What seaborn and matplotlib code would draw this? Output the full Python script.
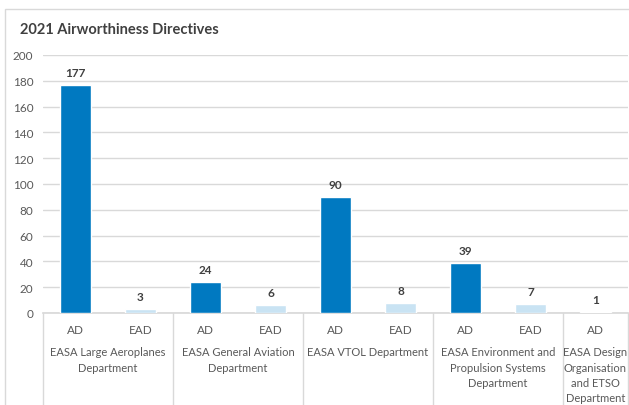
import pandas as pd
import matplotlib.pyplot as plt
import matplotlib.transforms as mtransforms
from matplotlib.patches import Rectangle
import seaborn as sns

# Chart values
departments = [
    "EASA Large Aeroplanes\nDepartment",
    "EASA General Aviation\nDepartment",
    "EASA VTOL Department",
    "EASA Environment and\nPropulsion Systems\nDepartment",
    "EASA Design\nOrganisation\nand ETSO\nDepartment",
]
ad_counts = [177, 24, 90, 39, 1]
ead_counts = [3, 6, 8, 7, None]
y_ticks = list(range(0, 201, 20))

# Build one row per bar slot
rows = []
group_sizes = []
for dep, ad, ead in zip(departments, ad_counts, ead_counts):
    rows.append({"slot": f"{dep}|AD", "kind": "AD", "value": ad})
    n = 1
    if ead is not None:
        rows.append({"slot": f"{dep}|EAD", "kind": "EAD", "value": ead})
        n = 2
    group_sizes.append(n)
df = pd.DataFrame(rows)

sns.set_theme(style="white")
plt.rcParams['font.family'] = ['Lato', 'DejaVu Sans']

fig = plt.figure(figsize=(6.29, 4.06), dpi=100)
ax = fig.add_axes([43 / 629, 1 - 314 / 406, 585 / 629, 258 / 406])

# outer chart frame
fig.patches.append(Rectangle((5 / 629, -0.1), 1.2, 1 - 10 / 406 + 0.1,
                             transform=fig.transFigure, fill=False,
                             edgecolor="#D9D9D9", linewidth=1))

sns.barplot(data=df, x="slot", y="value", hue="kind", dodge=False,
            palette={"AD": "#0079C1", "EAD": "#C9E3F3"}, width=0.48,
            saturation=1, legend=False, ax=ax, zorder=3)

for cont in ax.containers:
    ax.bar_label(cont, fmt="%d", padding=5, fontsize=8.5, fontweight="bold",
                 color="#404040")

ax.set_ylim(0, 200)
ax.set_xlim(-0.5, len(df) - 0.5)
ax.set_yticks(y_ticks)
ax.yaxis.grid(True, color="#D9D9D9", linewidth=1, zorder=0)
ax.set_axisbelow(True)
for s in ["left", "right", "top"]:
    ax.spines[s].set_visible(False)
ax.spines["bottom"].set_color("#D9D9D9")
ax.tick_params(axis="y", length=0, pad=7, labelsize=8.5, labelcolor="#595959")
ax.set_xticks(range(len(df)))
ax.set_xticklabels(df["kind"])
ax.tick_params(axis="x", length=0, pad=8, labelsize=8.5, labelcolor="#595959")
ax.set_xlabel("")
ax.set_ylabel("")

# group labels and separators
trans = mtransforms.blended_transform_factory(ax.transData, ax.transAxes)
start = -0.5
ax.plot([start, start], [0, -0.4], transform=trans, color="#D9D9D9",
        linewidth=1, clip_on=False)
for dep, n in zip(departments, group_sizes):
    end = start + n
    ax.plot([end, end], [0, -0.4], transform=trans, color="#D9D9D9",
            linewidth=1, clip_on=False)
    ax.text((start + end) / 2, -33 / 258, dep, transform=trans, ha="center",
            va="top", fontsize=8, color="#595959", linespacing=1.5)
    start = end

fig.text(20 / 629, 1 - 30 / 406, "2021 Airworthiness Directives",
         fontsize=10.5, fontweight="bold", color="#404040", va="center")

plt.savefig("out.png", dpi=100)
